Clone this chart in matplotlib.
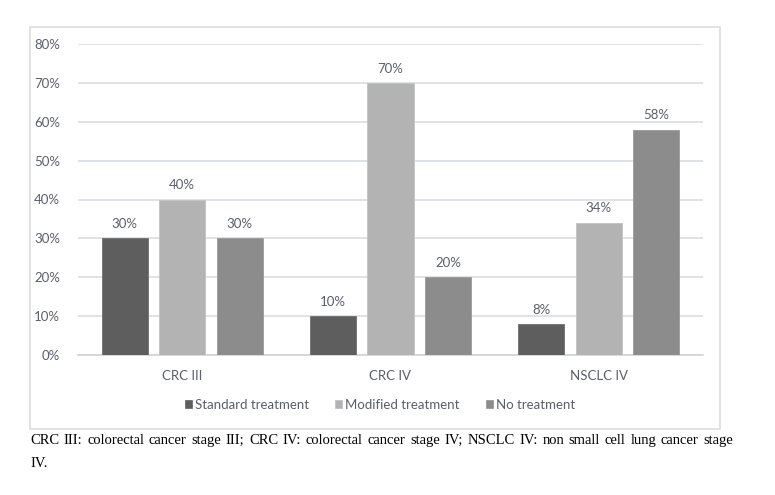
import matplotlib.pyplot as plt
import matplotlib.ticker as ticker
from matplotlib.patches import Rectangle
import numpy as np

categories = ['CRC III', 'CRC IV', 'NSCLC IV']
series_names = ['Standard treatment', 'Modified treatment', 'No treatment']
standard = [0.30, 0.10, 0.08]
modified = [0.40, 0.70, 0.34]
no_treat = [0.30, 0.20, 0.58]
caption_line1 = ('CRC III: colorectal cancer stage III; CRC IV: colorectal cancer stage IV;  '
                 'NSCLC IV: non small cell lung cancer stage')
caption_line2 = 'IV.'

colors = ['#5e5e5e', '#b3b3b3', '#8c8c8c']
edges = ['#6e6e6e', '#c2c2c2', '#9a9a9a']
txt = '#595f6b'
grid_c = '#d9dde3'

plt.rcParams['font.family'] = ['Lato', 'DejaVu Sans']

fig = plt.figure(figsize=(7.75, 4.95), dpi=100)
W, H = 775, 495
ax = fig.add_axes([78 / W, 1 - 355 / H, (703 - 78) / W, (355 - 44) / H])

# chart frame around the whole chart area
fig.patches.append(Rectangle((29.5 / W, 1 - 429 / H), (720 - 29.5) / W, (429 - 27) / H,
                             transform=fig.transFigure, fill=False,
                             edgecolor=grid_c, linewidth=1.2))

x = np.arange(len(categories))
width = 0.222
offset = 0.276
for k, vals in enumerate([standard, modified, no_treat]):
    pos = x + (k - 1) * offset
    bars = ax.bar(pos, vals, width, color=colors[k], edgecolor=edges[k],
                  linewidth=0.6, label=series_names[k], zorder=3)
    for b, v in zip(bars, vals):
        ax.annotate('%d%%' % round(v * 100), (b.get_x() + b.get_width() / 2, v),
                    xytext=(0, 6), textcoords='offset points',
                    ha='center', va='bottom', fontsize=9.5, color=txt)

ax.set_xlim(-0.5, 2.5)
ax.set_ylim(0, 0.8)
ax.yaxis.set_major_locator(ticker.MultipleLocator(0.1))
ax.yaxis.set_major_formatter(ticker.FuncFormatter(lambda v, p: '%d%%' % round(v * 100)))
ax.set_xticks(x)
ax.set_xticklabels(categories)
ax.grid(axis='y', color=grid_c, linewidth=1.2, zorder=0)
for s in ['top', 'right', 'left']:
    ax.spines[s].set_visible(False)
ax.spines['bottom'].set_color('#d0d4da')
ax.spines['bottom'].set_linewidth(1.2)
ax.tick_params(axis='both', length=0, labelsize=9.5, colors=txt)
ax.tick_params(axis='y', pad=13)
ax.tick_params(axis='x', pad=11)

leg = fig.legend(loc='center', bbox_to_anchor=(380 / W, 1 - 405 / H), ncol=3,
                 frameon=False, fontsize=9.5, handlelength=0.55, handleheight=0.55,
                 handletextpad=0.2, columnspacing=2.0)
for t in leg.get_texts():
    t.set_color(txt)

# justified caption below the chart
fig.canvas.draw()
r = fig.canvas.get_renderer()
words = caption_line1.replace('  ', ' ').split(' ')
left, right = 30, 733
fs = 10.5
tw = []
for w in words:
    t = fig.text(0, 0, w, family='Liberation Serif', fontsize=fs)
    tw.append(t.get_window_extent(r).width)
    t.remove()
gap = (right - left - sum(tw)) / (len(words) - 1)
cx = left
for w, wd in zip(words, tw):
    fig.text(cx / W, (H - 444) / H, w, family='Liberation Serif', fontsize=fs,
             va='baseline', ha='left', color='black')
    cx += wd + gap
fig.text(left / W, (H - 467) / H, caption_line2, family='Liberation Serif',
         fontsize=fs, va='baseline', ha='left', color='black')

fig.savefig('out.png', dpi=100)
